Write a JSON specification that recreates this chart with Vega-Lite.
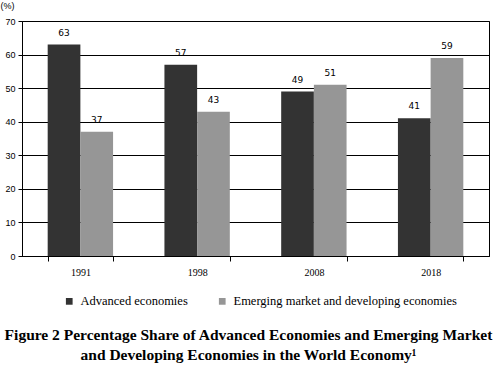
{
  "$schema": "https://vega.github.io/schema/vega-lite/v6.json",
  "width": 467,
  "height": 235,
  "autosize": "none",
  "padding": {"left": 22, "top": 21, "right": 9, "bottom": 117},
  "background": "white",
  "config": {
    "view": {"stroke": "black", "strokeWidth": 1},
    "font": "Liberation Serif",
    "legend": {"labelFont": "DejaVu Serif"}
  },
  "title": {
    "text": ["Figure 2 Percentage Share of Advanced Economies and Emerging Market", "and Developing Economies in the World Economy¹"],
    "orient": "bottom",
    "anchor": "middle",
    "font": "Liberation Serif",
    "fontSize": 15.5,
    "fontWeight": "bold",
    "lineHeight": 20,
    "offset": 20,
    "dx": -7,
    "color": "black"
  },
  "data": {
    "values": [
      {"year": "1991", "group": "Advanced economies", "value": 63},
      {"year": "1991", "group": "Emerging market and developing economies", "value": 37},
      {"year": "1998", "group": "Advanced economies", "value": 57},
      {"year": "1998", "group": "Emerging market and developing economies", "value": 43},
      {"year": "2008", "group": "Advanced economies", "value": 49},
      {"year": "2008", "group": "Emerging market and developing economies", "value": 51},
      {"year": "2018", "group": "Advanced economies", "value": 41},
      {"year": "2018", "group": "Emerging market and developing economies", "value": 59}
    ]
  },
  "encoding": {
    "x": {
      "field": "year",
      "type": "nominal",
      "scale": {"paddingInner": 0.44, "paddingOuter": 0.22},
      "axis": {
        "title": null,
        "labelAngle": 0,
        "labelFont": "Liberation Serif",
        "labelFontSize": 10,
        "labelColor": "black",
        "labelPadding": 6,
        "domainColor": "black",
        "tickColor": "black",
        "tickBand": "extent",
        "tickSize": 5,
        "grid": false
      }
    },
    "xOffset": {"field": "group", "type": "nominal"},
    "y": {
      "field": "value",
      "type": "quantitative",
      "scale": {"domain": [0, 70]},
      "axis": {
        "title": "(%)",
        "titleAngle": 0,
        "titleX": -22,
        "titleY": -16,
        "titleAlign": "left",
        "titleBaseline": "middle",
        "titleFont": "Liberation Sans",
        "titleFontSize": 9,
        "titleFontWeight": "normal",
        "titleColor": "black",
        "values": [0, 10, 20, 30, 40, 50, 60, 70],
        "labelFont": "Liberation Sans",
        "labelFontSize": 9,
        "labelColor": "black",
        "labelPadding": 3,
        "tickSize": 4,
        "tickColor": "black",
        "domainColor": "black",
        "gridColor": "black",
        "gridOpacity": 1
      }
    }
  },
  "layer": [
    {
      "mark": {"type": "bar"},
      "encoding": {
        "color": {
          "field": "group",
          "type": "nominal",
          "scale": {"range": ["#333333", "#969696"]},
          "legend": {
            "title": null,
            "orient": "none",
            "legendX": 41,
            "legendY": 274,
            "direction": "horizontal",
            "symbolType": "square",
            "symbolSize": 45,
            "symbolStrokeWidth": 0,
            "labelFont": "Liberation Serif",
            "labelFontSize": 12.5,
            "labelColor": "black",
            "labelLimit": 0,
            "labelOffset": 5,
            "columnPadding": 28
          }
        }
      }
    },
    {
      "mark": {"type": "text", "baseline": "bottom", "dy": -7, "font": "DejaVu Sans", "fontSize": 9, "color": "black"},
      "encoding": {
        "text": {"field": "value", "type": "quantitative"}
      }
    }
  ]
}
